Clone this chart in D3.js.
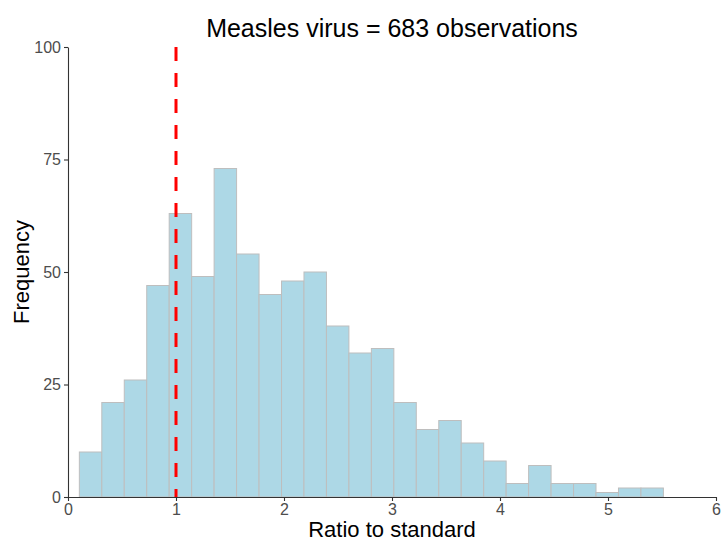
<!DOCTYPE html>
<html>
<head>
<meta charset="utf-8">
<script src="https://cdn.jsdelivr.net/npm/d3@7"></script>
<style>
  body { margin: 0; background: #fff; }
  text { font-family: "Liberation Sans", Arial, sans-serif; }
</style>
</head>
<body>
<script>
// histogram counts, 26 bins starting at 0.105 with width 0.208
var binStart = 0.105,
  binWidth = 0.208;
var counts = [10, 21, 26, 47, 63, 49, 73, 54, 45, 48, 50, 38, 32, 33, 21, 15, 17, 12, 8, 3, 7, 3, 3, 1, 2, 2];
var xTicks = [0, 1, 2, 3, 4, 5, 6];
var yTicks = [0, 25, 50, 75, 100];
var refLine = 1;

var width = 725,
  height = 541;
var margin = {top: 47, right: 9, bottom: 44, left: 68};

var svg = d3.select('body').append('svg')
  .attr('width', width)
  .attr('height', height);

var x = d3.scaleLinear().domain([0, 6]).range([margin.left, width - margin.right]);
var y = d3.scaleLinear().domain([0, 100]).range([height - margin.bottom, margin.top]);

var bins = counts.map((c, i) => ({x0: binStart + i * binWidth, x1: binStart + (i + 1) * binWidth, n: c}));

svg.append('g').selectAll('rect')
  .data(bins)
  .enter().append('rect')
  .attr('x', d => x(d.x0))
  .attr('width', d => x(d.x1) - x(d.x0))
  .attr('y', d => y(d.n))
  .attr('height', d => y(0) - y(d.n))
  .attr('fill', '#ADD8E6')
  .attr('stroke', '#BEBEBE')
  .attr('stroke-width', 1);

// reference line
svg.append('line')
  .attr('x1', x(refLine)).attr('x2', x(refLine))
  .attr('y1', y(100)).attr('y2', y(0))
  .attr('stroke', '#FF0000')
  .attr('stroke-width', 3)
  .attr('stroke-dasharray', '14,12');

// axes
var xAxis = svg.append('g')
  .attr('transform', `translate(0, ${y(0)})`)
  .call(d3.axisBottom(x).tickValues(xTicks).tickFormat(d3.format('d')).tickSize(4).tickPadding(3).tickSizeOuter(0));
var yAxis = svg.append('g')
  .attr('transform', `translate(${x(0)}, 0)`)
  .call(d3.axisLeft(y).tickValues(yTicks).tickFormat(d3.format('d')).tickSize(4).tickPadding(3).tickSizeOuter(0));

[xAxis, yAxis].forEach(g => {
  g.select('.domain').attr('stroke', '#333333').attr('stroke-width', 1.1);
  g.selectAll('.tick line').attr('stroke', '#333333').attr('stroke-width', 1.1);
  g.selectAll('.tick text').attr('fill', '#4D4D4D').style('font-size', '16px');
});

// titles
svg.append('text')
  .attr('x', (x(0) + x(6)) / 2)
  .attr('y', 37)
  .attr('text-anchor', 'middle')
  .style('font-size', '25px')
  .text('Measles virus = 683 observations');

svg.append('text')
  .attr('x', (x(0) + x(6)) / 2)
  .attr('y', 537)
  .attr('text-anchor', 'middle')
  .style('font-size', '22px')
  .text('Ratio to standard');

svg.append('text')
  .attr('transform', `translate(29, ${(y(0) + y(100)) / 2}) rotate(-90)`)
  .attr('text-anchor', 'middle')
  .style('font-size', '22px')
  .text('Frequency');
</script>
</body>
</html>
